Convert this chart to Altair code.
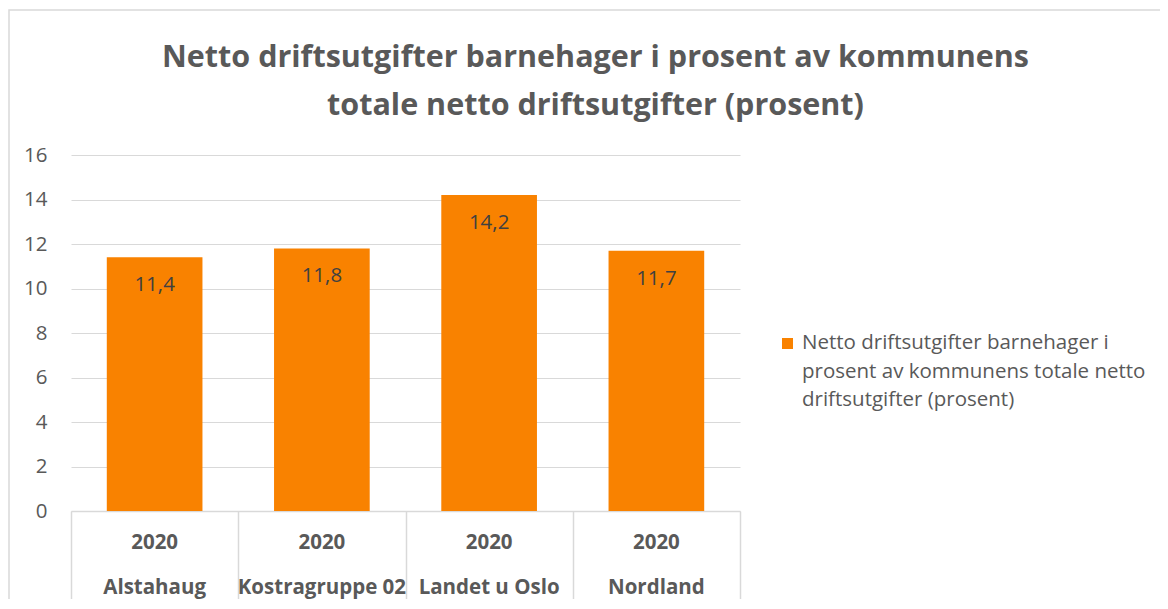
import altair as alt
import pandas as pd

TITLE_LINES = [
    "Netto driftsutgifter barnehager i prosent av kommunens",
    "totale netto driftsutgifter (prosent)",
]
CATEGORIES = ["Alstahaug", "Kostragruppe 02", "Landet u Oslo", "Nordland"]
YEARS = ["2020", "2020", "2020", "2020"]
VALUES = [11.4, 11.8, 14.2, 11.7]
SERIES_LINES = [
    "Netto driftsutgifter barnehager i",
    "prosent av kommunens totale netto",
    "driftsutgifter (prosent)",
]
Y_TICKS = [0, 2, 4, 6, 8, 10, 12, 14, 16]

df = pd.DataFrame({
    "kategori": CATEGORIES,
    "aar": YEARS,
    "verdi": VALUES,
    "etikett": [f"{v:.1f}".replace(".", ",") for v in VALUES],
})
legend_df = pd.DataFrame({"serie": ["\n".join(SERIES_LINES)]})
title1_df = pd.DataFrame({"t": [TITLE_LINES[0]]})
title2_df = pd.DataFrame({"t": [TITLE_LINES[1]]})
frame_df = pd.DataFrame({"k": [1]})

W, H = 669, 356
ORANGE = "#F98200"
GREY = "#595959"
LINE = "#d9d9d9"
FONT = "Open Sans"
FS = 20.5
TFS = 30.5

x_enc = alt.X(
    "kategori:N", sort=CATEGORIES,
    scale=alt.Scale(paddingInner=0, paddingOuter=0),
    axis=alt.Axis(title=None, labels=False, ticks=True, tickBand="extent",
                  tickSize=94, tickColor=LINE, tickWidth=1.5,
                  domainColor=LINE, domainWidth=1.5, grid=False),
)
y_enc = alt.Y(
    "verdi:Q",
    scale=alt.Scale(domain=[0, 16]),
    axis=alt.Axis(title=None, values=Y_TICKS, domain=False, ticks=False,
                  labelPadding=24, labelFontSize=FS, labelColor=GREY,
                  labelFont=FONT, gridColor=LINE, gridWidth=1.2),
)

base = alt.Chart(df)
bars = base.mark_bar(color=ORANGE, width=alt.RelativeBandSize(0.572)).encode(x=x_enc, y=y_enc)
vals = base.mark_text(dy=28, fontSize=FS, font=FONT, color="#404040", baseline="middle").encode(
    x=alt.X("kategori:N", sort=CATEGORIES), y="verdi:Q", text="etikett:N")
years = base.mark_text(fontSize=FS, fontWeight="bold", font=FONT, color=GREY, baseline="middle").encode(
    x=alt.X("kategori:N", sort=CATEGORIES), y=alt.value(H + 32), text="aar:N")
names = base.mark_text(fontSize=FS, fontWeight="bold", font=FONT, color=GREY, baseline="middle").encode(
    x=alt.X("kategori:N", sort=CATEGORIES), y=alt.value(H + 77), text="kategori:N")

leg_sym = alt.Chart(legend_df).mark_square(size=121, color=ORANGE, opacity=1).encode(
    x=alt.value(716.5), y=alt.value(188.5))
leg_txt = alt.Chart(legend_df).mark_text(
    align="left", baseline="middle", lineBreak="\n", lineHeight=28.5,
    fontSize=FS, font=FONT, color=GREY).encode(
    x=alt.value(731), y=alt.value(188), text="serie:N")

title1 = alt.Chart(title1_df).mark_text(
    align="center", baseline="alphabetic", fontSize=TFS, fontWeight="bold",
    font=FONT, color=GREY).encode(x=alt.value(524.5), y=alt.value(-88.5), text="t:N")
title2 = alt.Chart(title2_df).mark_text(
    align="center", baseline="alphabetic", fontSize=TFS, fontWeight="bold",
    font=FONT, color=GREY).encode(x=alt.value(524.5), y=alt.value(-40), text="t:N")

frame = alt.Chart(frame_df).mark_rect(fillOpacity=0, stroke=LINE, strokeWidth=1.5).encode(
    x=alt.value(-62), x2=alt.value(W + 500), y=alt.value(-145), y2=alt.value(H + 200))

chart = alt.layer(frame, bars, vals, years, names, leg_sym, leg_txt, title1, title2).properties(
    width=W, height=H,
    autosize=alt.AutoSizeParams(type="none"),
    padding={"left": 63, "top": 147, "right": 420, "bottom": 88},
).configure_view(stroke=None)

chart.save("out.html", embed_options={"renderer": "svg", "actions": False})
